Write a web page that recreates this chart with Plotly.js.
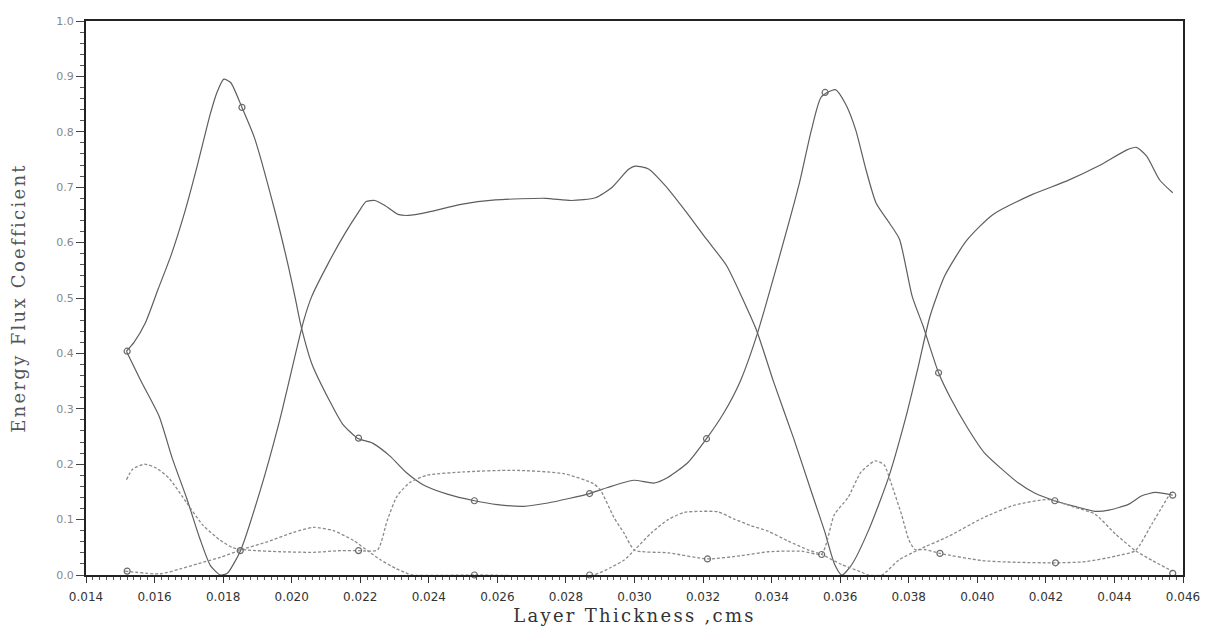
<!DOCTYPE html>
<html>
<head>
<meta charset="utf-8">
<script src="https://cdn.plot.ly/plotly-3.0.1.min.js"></script>
<style>
html,body{margin:0;padding:0;background:#fff;}
#chart{width:1211px;height:631px;}
text.xtitle, text.ytitle{letter-spacing:2.3px;}
</style>
</head>
<body>
<div id="chart"></div>
<script>
// Solid curve A (first peak ~0.0180)
const aX = [0.01518,0.0154,0.01573,0.01611,0.01648,0.01688,0.01725,0.01762,0.01782,0.01802,0.01822,0.01855,0.01891,0.01951,0.0199,0.02011,0.02026,0.02059,0.0211,0.02148,0.02192,0.02236,0.02286,0.02336,0.02383,0.02454,0.02533,0.026,0.02676,0.02747,0.02869,0.02922,0.02997,0.03056,0.03097,0.03156,0.0321,0.03259,0.03308,0.03357,0.03422,0.0348,0.03516,0.03545,0.03586,0.03615,0.03645,0.03675,0.03705,0.03744,0.03773,0.0381,0.03842,0.03887,0.03923,0.03973,0.0402,0.0407,0.0412,0.04167,0.04226,0.04284,0.04343,0.04384,0.04442,0.0448,0.0452,0.0457];
const aY = [0.404,0.420,0.455,0.517,0.577,0.655,0.740,0.831,0.871,0.895,0.889,0.844,0.790,0.657,0.558,0.498,0.453,0.381,0.315,0.273,0.247,0.238,0.215,0.184,0.163,0.146,0.134,0.127,0.124,0.130,0.147,0.158,0.171,0.166,0.176,0.203,0.246,0.291,0.349,0.433,0.573,0.705,0.803,0.863,0.876,0.851,0.804,0.732,0.671,0.635,0.606,0.503,0.449,0.365,0.318,0.264,0.221,0.192,0.166,0.148,0.134,0.124,0.115,0.117,0.128,0.143,0.149,0.144];

// Solid curve B (first minimum ~0.0180)
const bX = [0.01518,0.01563,0.01613,0.01652,0.01694,0.01732,0.01763,0.01792,0.01812,0.0185,0.01907,0.01964,0.02035,0.02058,0.02107,0.02156,0.02194,0.02217,0.02243,0.02272,0.0231,0.0234,0.02398,0.02494,0.02594,0.0274,0.02816,0.02886,0.02933,0.02982,0.03002,0.03041,0.03091,0.0315,0.03209,0.03268,0.03315,0.03357,0.03405,0.03464,0.03515,0.03554,0.03584,0.03605,0.03634,0.03683,0.0374,0.03792,0.03828,0.03862,0.03905,0.03969,0.04044,0.04161,0.0426,0.04356,0.04435,0.04464,0.04494,0.04532,0.0457];
const bY = [0.404,0.347,0.287,0.210,0.138,0.066,0.017,0.0,0.003,0.043,0.150,0.277,0.459,0.502,0.563,0.617,0.654,0.674,0.676,0.667,0.651,0.649,0.655,0.669,0.677,0.680,0.676,0.681,0.699,0.732,0.738,0.733,0.702,0.656,0.607,0.559,0.499,0.440,0.350,0.247,0.152,0.080,0.019,0.0,0.019,0.081,0.174,0.286,0.377,0.467,0.540,0.604,0.650,0.687,0.711,0.739,0.767,0.772,0.756,0.713,0.690];

// Dashed curve C
const cX = [0.01518,0.01536,0.0157,0.01605,0.01643,0.01693,0.01741,0.01791,0.01829,0.01871,0.01967,0.02064,0.02143,0.02195,0.0225,0.02279,0.02308,0.02345,0.02395,0.025,0.02646,0.02793,0.0288,0.02901,0.0294,0.0297,0.030,0.03099,0.03213,0.03312,0.03391,0.03488,0.03546,0.03583,0.03623,0.03661,0.03702,0.03728,0.03749,0.03779,0.038,0.03818,0.03847,0.03891,0.04014,0.04111,0.04228,0.04315,0.04403,0.04461,0.0451,0.04568];
const cY = [0.172,0.191,0.200,0.193,0.174,0.131,0.090,0.063,0.049,0.045,0.042,0.041,0.044,0.044,0.045,0.099,0.143,0.167,0.180,0.186,0.189,0.183,0.165,0.153,0.104,0.075,0.045,0.040,0.029,0.035,0.042,0.043,0.038,0.109,0.140,0.186,0.206,0.199,0.165,0.109,0.064,0.046,0.046,0.039,0.026,0.023,0.022,0.024,0.034,0.044,0.093,0.153];

// Dashed curve D
const dX = [0.01514,0.01616,0.01675,0.01725,0.01792,0.0185,0.01929,0.02005,0.02064,0.02122,0.02181,0.02221,0.0226,0.02303,0.02333,0.0235,0.0254,0.0288,0.02932,0.0297,0.030,0.03049,0.03098,0.03145,0.03195,0.03244,0.03291,0.0334,0.0339,0.03449,0.03508,0.03546,0.03604,0.03663,0.0368,0.03722,0.03771,0.0383,0.03917,0.04013,0.04108,0.04208,0.04285,0.04343,0.04403,0.04461,0.04511,0.04569];
const dY = [0.007,0.002,0.011,0.020,0.032,0.045,0.060,0.077,0.086,0.080,0.062,0.044,0.027,0.012,0.004,0.0,0.0,0.0,0.014,0.027,0.045,0.076,0.100,0.113,0.115,0.114,0.101,0.089,0.079,0.061,0.045,0.037,0.019,0.005,0.0,0.0,0.027,0.046,0.070,0.102,0.126,0.136,0.122,0.110,0.074,0.044,0.026,0.007];

// Plotted symbols (small open circles)
const markX = [0.0152,0.0152,0.01855,0.0185,0.02195,0.02195,0.02533,0.02533,0.02869,0.02869,0.0321,0.03213,0.03556,0.03546,0.03887,0.03891,0.04226,0.04228,0.0457,0.0457];
const markY = [0.404,0.007,0.844,0.044,0.247,0.044,0.134,0.0,0.147,0.0,0.246,0.029,0.871,0.037,0.365,0.039,0.134,0.022,0.144,0.003];

const solid = {color:'#5e5e5e', width:1.2, shape:'spline', smoothing:0.6};
const dashed = {color:'#8a8a8a', width:1.3, dash:'3px,2px', shape:'spline', smoothing:0.6};

const traces = [
  {x:aX, y:aY, mode:'lines', line:solid, cliponaxis:false},
  {x:bX, y:bY, mode:'lines', line:solid, cliponaxis:false},
  {x:cX, y:cY, mode:'lines', line:dashed, cliponaxis:false},
  {x:dX, y:dY, mode:'lines', line:dashed, cliponaxis:false},
  {x:markX, y:markY, mode:'markers', cliponaxis:false,
   marker:{symbol:'circle-open', size:6, color:'#6a6a6a', line:{width:1.2, color:'#6a6a6a'}}}
];

const layout = {
  width:1211, height:631,
  margin:{l:86, r:28, t:21, b:56},
  paper_bgcolor:'#ffffff', plot_bgcolor:'#ffffff',
  showlegend:false,
  xaxis:{
    range:[0.014,0.046], dtick:0.002, tick0:0.014, tickformat:'.3f',
    ticks:'outside', ticklen:6, tickwidth:1, tickcolor:'#333',
    showgrid:false, zeroline:false,
    showline:true, linewidth:2, linecolor:'#222', mirror:true,
    minor:{dtick:0.0002, ticks:'outside', ticklen:3, tickcolor:'#555', showgrid:false},
    tickfont:{family:'DejaVu Sans', size:12, color:'#333'},
    ticklabelstandoff:4,
    title:{text:'Layer Thickness ,cms', font:{family:'DejaVu Serif', size:18, color:'#333'}, standoff:6}
  },
  yaxis:{
    range:[0,1.0], dtick:0.1, tick0:0, tickformat:'.1f',
    ticks:'outside', ticklen:8, tickwidth:1, tickcolor:'#444',
    showgrid:false, zeroline:false,
    showline:true, linewidth:2, linecolor:'#222', mirror:true,
    minor:{dtick:0.02, ticks:'outside', ticklen:4, tickcolor:'#555', showgrid:false},
    tickfont:{family:'DejaVu Sans', size:11, color:'#888'},
    title:{text:'Energy Flux Coefficient', font:{family:'DejaVu Serif', size:18, color:'#555'}, standoff:26}
  }
};

Plotly.newPlot('chart', traces, layout, {displayModeBar:false, staticPlot:true});
</script>
</body>
</html>
